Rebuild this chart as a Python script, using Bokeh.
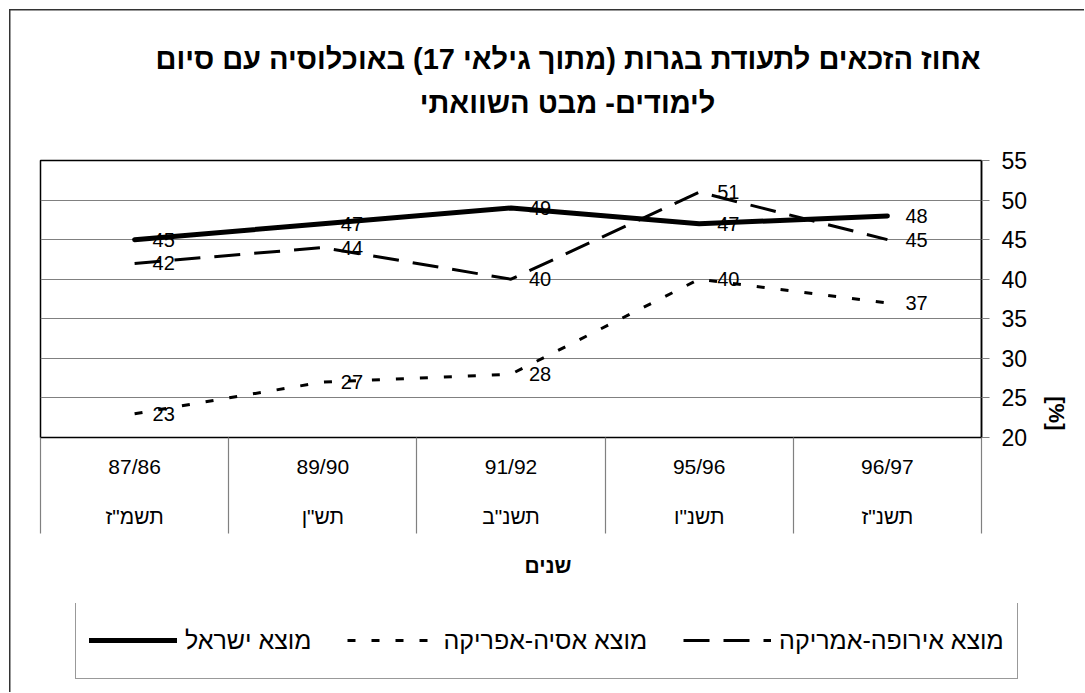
from bokeh.plotting import figure
from bokeh.layouts import column
from bokeh.models import (LinearAxis, FixedTicker, Range1d, LabelSet, Title,
                          ColumnDataSource, Legend, LegendItem)
from bokeh.embed import file_html
from bokeh.resources import INLINE
from bokeh.core.properties import value

# ---------------- data ----------------
years = ["87/86", "89/90", "91/92", "95/96", "96/97"]
heb_years = ['תשמ"ז', 'תש"ן', 'תשנ"ב', 'תשנ"ו', 'תשנ"ז']
israel = [45, 47, 49, 47, 48]
asia_africa = [23, 27, 28, 40, 37]
europe_america = [42, 44, 40, 51, 45]
y_ticks = [20, 25, 30, 35, 40, 45, 50, 55]
series_names = ["מוצא ישראל", "מוצא אסיה-אפריקה", "מוצא אירופה-אמריקה"]
title_lines = ["אחוז הזכאים לתעודת בגרות (מתוך גילאי 17)  באוכלוסיה עם סיום",
               "לימודים-  מבט השוואתי"]
x_title = "שנים"
y_title = "[%]"

FONT = "Liberation Sans"

xs = list(range(1, len(years) + 1))
bounds = [i + 0.5 for i in range(len(years) + 1)]

W = 1084
H1 = 603      # main chart canvas height
H2 = 89       # legend strip height

ISR_STYLE = dict(line_width=5, line_color="black", line_cap="round", line_join="round")
ASIA_STYLE = dict(line_width=3, line_color="black", line_dash="8 16")
EU_STYLE = dict(line_width=3, line_color="black", line_dash="26 14")

p = figure(width=W, height=H1, output_backend="svg", toolbar_location=None,
           x_range=Range1d(0.5, len(years) + 0.5), y_range=Range1d(y_ticks[0], y_ticks[-1]),
           x_axis_location=None, y_axis_location="right",
           min_border_left=40, min_border_right=W - 981, min_border_top=160,
           min_border_bottom=H1 - 437)
p.frame_align = False
p.outline_line_color = "black"
p.outline_line_width = 1.5
p.background_fill_color = "white"
p.border_fill_color = None
p.xgrid.visible = False

# y axis (right)
p.yaxis.ticker = FixedTicker(ticks=y_ticks)
p.yaxis.axis_line_color = "black"
p.yaxis.axis_line_width = 1.5
p.yaxis.major_tick_out = 8
p.yaxis.major_tick_in = 0
p.yaxis.major_tick_line_color = "#808080"
p.yaxis.minor_tick_line_color = None
p.yaxis.major_label_standoff = 12
p.yaxis.major_label_text_font = FONT
p.yaxis.major_label_text_font_size = "23px"
p.yaxis.major_label_text_color = "black"
p.ygrid.grid_line_color = "#808080"
p.ygrid.grid_line_width = 1.2

# category table below
axA = LinearAxis(ticker=FixedTicker(ticks=xs, minor_ticks=bounds),
                 major_label_overrides={x: t for x, t in zip(xs, years)})
axA.axis_line_color = None
axA.major_tick_line_color = None
axA.major_tick_out = 0
axA.major_tick_in = 0
axA.minor_tick_out = 96
axA.minor_tick_in = 0
axA.minor_tick_line_color = "#808080"
axA.minor_tick_line_width = 1.2
axA.major_label_standoff = -79
axA.major_label_text_font = FONT
axA.major_label_text_font_size = "21px"
axA.major_label_text_color = "black"
p.add_layout(axA, "below")

axB = LinearAxis(ticker=FixedTicker(ticks=xs, minor_ticks=[]),
                 major_label_overrides={x: t for x, t in zip(xs, heb_years)})
axB.axis_line_color = None
axB.major_tick_line_color = None
axB.minor_tick_line_color = None
axB.major_tick_out = 0
axB.major_tick_in = 0
axB.minor_tick_out = 0
axB.major_label_standoff = 24
axB.major_label_text_font = FONT
axB.major_label_text_font_size = "21px"
axB.major_label_text_color = "black"
p.add_layout(axB, "below")

# x title
p.add_layout(Title(text=x_title, align="left", offset=484, vertical_align="top",
                   standoff=46, text_font=FONT, text_font_style="bold",
                   text_font_size="21px", text_color="black"), "below")

# lines
p.line(xs, israel, **ISR_STYLE)
p.line(xs, asia_africa, **ASIA_STYLE)
p.line(xs, europe_america, **EU_STYLE)

for vals in (israel, asia_africa, europe_america):
    src = ColumnDataSource(dict(x=xs, y=vals, t=[str(v) for v in vals]))
    p.add_layout(LabelSet(x="x", y="y", text="t", source=src, x_offset=18, y_offset=0,
                          text_baseline="middle", text_align="left",
                          text_font=value(FONT), text_font_size="20px", text_color="black"))

# titles above: spacer, line 2, line 1 (from the frame outward)
p.add_layout(Title(text=" ", standoff=39, text_font_size="1px"), "above")
p.add_layout(Title(text=title_lines[1], align="right", offset=258, vertical_align="bottom",
                   standoff=0, text_font=FONT, text_font_style="bold",
                   text_font_size="29px", text_color="black"), "above")
p.add_layout(Title(text=title_lines[0], align="right", offset=-7, vertical_align="bottom",
                   standoff=20, text_font=FONT, text_font_style="bold",
                   text_font_size="29px", text_color="black"), "above")

# y title on the right
p.add_layout(Title(text=y_title, align="right", offset=7, vertical_align="middle",
                   standoff=24, text_font=FONT, text_font_style="bold",
                   text_font_size="22px", text_color="black"), "right")

# ---------------- legend strip ----------------
p2 = figure(width=W, height=H2, output_backend="svg", toolbar_location=None,
            x_range=Range1d(0.5, len(years) + 0.5), y_range=Range1d(y_ticks[0], y_ticks[-1]),
            x_axis_location=None, y_axis_location=None,
            min_border_left=0, min_border_right=0, min_border_top=0, min_border_bottom=0)
p2.frame_align = False
p2.outline_line_color = None
p2.background_fill_color = None
p2.border_fill_color = None
p2.grid.visible = False
# legend keys (the same series, not drawn in this strip)
g_isr = p2.line(xs, israel, visible=False, **ISR_STYLE)
g_asia = p2.line(xs, asia_africa, visible=False, **ASIA_STYLE)
g_eu = p2.line(xs, europe_america, visible=False, **EU_STYLE)

legend = Legend(items=[LegendItem(label=series_names[0], renderers=[g_isr]),
                       LegendItem(label=series_names[1], renderers=[g_asia]),
                       LegendItem(label=series_names[2], renderers=[g_eu])],
                orientation="horizontal", location=(75, H2 - 76),
                glyph_width=88, glyph_height=50, label_height=50, label_standoff=8,
                spacing=36, padding=13, margin=0,
                border_line_color="#333333", border_line_width=1.5,
                background_fill_alpha=0, inactive_fill_alpha=0,
                label_text_font=FONT, label_text_font_size="25px", label_text_color="black")
p2.add_layout(legend)

layout = column(p, p2, spacing=0)
layout.styles = {
    "background": "linear-gradient(#333,#333) 9px 9px / 3000px 1.5px no-repeat, "
                  "linear-gradient(#333,#333) 9px 9px / 1.5px 3000px no-repeat, #ffffff"
}

open("out.html", "w").write(file_html(layout, INLINE))
